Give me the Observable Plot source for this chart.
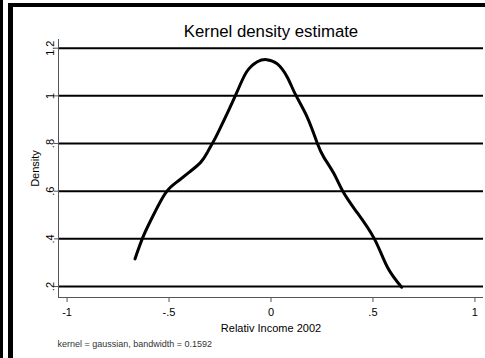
<!DOCTYPE html>
<html>
<head>
<meta charset="utf-8">
<script src="https://cdn.jsdelivr.net/npm/d3@7"></script>
<script src="https://cdn.jsdelivr.net/npm/@observablehq/plot@0.6"></script>
<style>
  html, body { margin: 0; padding: 0; background: #fff; }
  #wrap { position: relative; width: 485px; height: 358px; overflow: hidden; background: #fff; }
  #wrap svg { position: absolute; left: 0; top: 0; }
  .bar { position: absolute; left: 0; top: 0; width: 3px; height: 358px; background: #000; }
  .frame { position: absolute; left: 8px; top: 3px; width: 600px; height: 600px;
           border-left: 5px solid #000; border-top: 4px solid #000; box-sizing: border-box; }
</style>
</head>
<body>
<div id="wrap"><div class="bar"></div><div class="frame"></div></div>
<script>
// Density curve
const incomeX  = [-0.667, -0.630, -0.590, -0.540, -0.500, -0.455, -0.402, -0.345, -0.312, -0.287, -0.255,
                  -0.173, -0.120, -0.067, -0.021, 0.031, 0.080, 0.121, 0.178, 0.227, 0.260,
                  0.309, 0.350, 0.415, 0.505, 0.571, 0.641];
const densityY = [0.316, 0.403, 0.477, 0.560, 0.610, 0.643, 0.679, 0.721, 0.763, 0.801, 0.854,
                  1.004, 1.100, 1.143, 1.152, 1.134, 1.078, 1.004, 0.910, 0.801, 0.741,
                  0.673, 0.603, 0.519, 0.403, 0.281, 0.197];

const xTicks = [-1, -0.5, 0, 0.5, 1];
const xTickLabels = ["-1", "-.5", "0", ".5", "1"];
const yTicks = [0.2, 0.4, 0.6, 0.8, 1, 1.2];
const yTickLabels = [".2", ".4", ".6", ".8", "1", "1.2"];
const xDomain = [-1.042, 1.042];
const yDomain = [0.154, 1.2365];

const titleText = "Kernel density estimate";
const xLabel = "Relativ Income 2002";
const yLabel = "Density";
const noteText = "kernel = gaussian, bandwidth = 0.1592";

const data = incomeX.map((x, i) => ({x, y: densityY[i]}));

const chart = Plot.plot({
  width: 485,
  height: 358,
  marginLeft: 58,
  marginRight: 2,
  marginTop: 39,
  marginBottom: 61,
  style: {background: "transparent", fontFamily: "'Liberation Sans', Arial, sans-serif", overflow: "visible"},
  x: {domain: xDomain},
  y: {domain: yDomain},
  marks: [
    Plot.ruleY(yTicks, {stroke: "#000", strokeWidth: 2}),
    Plot.ruleX([xDomain[0]], {stroke: "#555", strokeWidth: 1}),
    Plot.ruleY([yDomain[0]], {stroke: "#555", strokeWidth: 1}),
    Plot.axisX({ticks: xTicks, tickSize: 5, tickPadding: 6, stroke: "#555", fill: "#000", fontSize: 11,
                tickFormat: d => xTickLabels[xTicks.indexOf(d)], label: null}),
    Plot.axisY({ticks: yTicks, tickSize: 4, stroke: "#555", tickFormat: () => "", label: null}),
    Plot.text(yTicks, {y: d => d, text: (d, i) => yTickLabels[i], frameAnchor: "left", rotate: -90,
                       textAnchor: "middle", lineAnchor: "bottom", dx: -5, fontSize: 11, fill: "#000"}),
    Plot.line(data, {x: "x", y: "y", stroke: "#000", strokeWidth: 3, curve: "natural"}),
    Plot.text([titleText], {frameAnchor: "top", lineAnchor: "bottom", dy: -3, fontSize: 16.8, fill: "#000"}),
    Plot.text([xLabel], {frameAnchor: "bottom", lineAnchor: "bottom", dy: 34, fontSize: 11, fill: "#000"}),
    Plot.text([yLabel], {frameAnchor: "left", rotate: -90, textAnchor: "middle", lineAnchor: "bottom", dx: -20, dy: 0, fontSize: 11, fill: "#000"}),
    Plot.text([noteText], {frameAnchor: "bottom-left", textAnchor: "start", lineAnchor: "bottom", dx: -1, dy: 49, fontSize: 9, fill: "#333"})
  ]
});
document.getElementById("wrap").appendChild(chart);
</script>
</body>
</html>
